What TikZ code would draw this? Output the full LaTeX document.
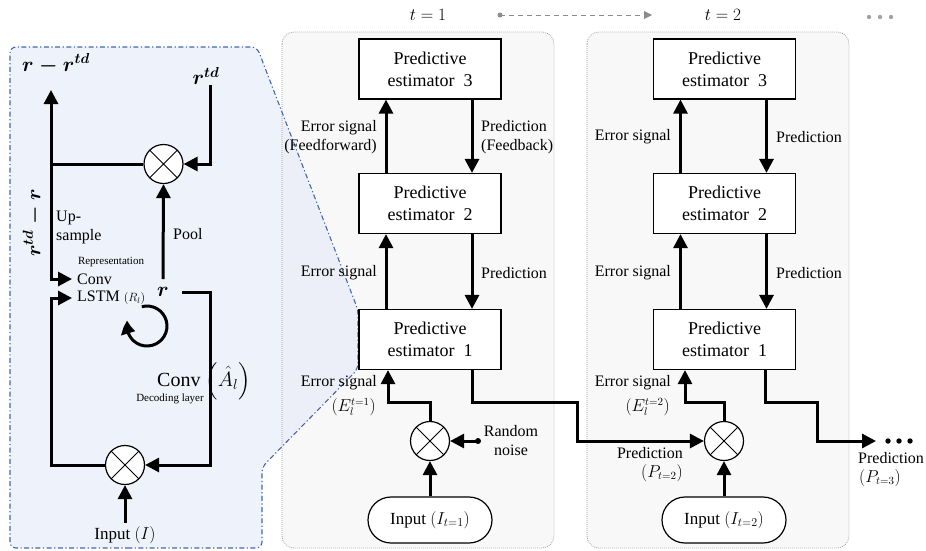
\documentclass[tikz,border=0pt]{standalone}
\usepackage{amsmath}
\usepackage{fontspec}
\setmainfont{Liberation Serif}
\usetikzlibrary{arrows.meta,calc,bending}

\definecolor{panelfill}{HTML}{F8F8F8}
\definecolor{panelline}{HTML}{9A9A9A}
\definecolor{zoomfill}{HTML}{E8EDF8}
\definecolor{zoomline}{HTML}{4469A8}
\definecolor{timegray}{HTML}{8C8C8C}

\tikzset{
  tip/.style={-{Triangle[width=14pt,length=14pt]}},
  flow/.style={line width=3pt, tip},
  wire/.style={line width=3pt},
  pebox/.style={draw, line width=1.2pt, fill=white, minimum width=142pt,
    minimum height=60pt, align=center, inner sep=0pt,
    font=\fontsize{18}{22}\selectfont},
  mult/.style={circle, draw, line width=1.2pt, fill=white, minimum size=39pt,
    inner sep=0pt, path picture={
      \draw[line width=1pt]
        (path picture bounding box.north west) -- (path picture bounding box.south east)
        (path picture bounding box.north east) -- (path picture bounding box.south west);}},
  inbox/.style={draw, line width=1.2pt, fill=white, rounded corners=23pt,
    minimum width=124pt, minimum height=46pt, font=\fontsize{17}{20}\selectfont},
  lbl/.style={font=\fontsize{16}{19}\selectfont, inner sep=0pt},
  small/.style={font=\fontsize{11}{13}\selectfont, inner sep=0pt},
  mathlbl/.style={font=\fontsize{20}{24}\selectfont, inner sep=0pt},
  panel/.style={draw=panelline, line width=0.8pt, dash pattern=on 0.8pt off 1.2pt,
    rounded corners=12pt},
  zoomedge/.style={draw=zoomline, line width=1.1pt,
    dash pattern=on 5pt off 2.5pt on 1.2pt off 2.5pt, rounded corners=6pt},
}

\begin{document}
\begin{tikzpicture}[x=1pt,y=-1pt]
\useasboundingbox (0,0) rectangle (926,550);

% time-step panels and the zoomed-in layer
\fill[panelfill, rounded corners=12pt] (282,32) rectangle (554,548);
\fill[panelfill, rounded corners=12pt] (587,32) rectangle (849,548);
\fill[zoomfill, fill opacity=0.75, rounded corners=6pt]
  (136,548) -- (10,548) -- (10,47) -- (257,47) -- (358,310) -- (358,369)
  -- (262,467) -- (262,548) -- cycle;
\draw[panel] (282,32) rectangle (554,548);
\draw[panel] (587,32) rectangle (849,548);
\path[zoomedge]
  (136,548) -- (10,548) -- (10,47) -- (257,47) -- (358,310) -- (358,369)
  -- (262,467) -- (262,548) -- cycle;

% ---------- inside one predictive estimator ----------
\node[mult] (mtop) at (163.5,164) {};
\node[mult] (mbot) at (125,465) {};
\node[mathlbl] (rdiff) at (56,64) {$\boldsymbol{r-r^{td}}$};
\node[mathlbl] (rtd) at (206,76) {$\boldsymbol{r^{td}}$};
\node[mathlbl, rotate=90] (rrev) at (33,223) {$\boldsymbol{r^{td}-r}$};
\node[lbl, anchor=west, align=left] (ups) at (56,227) {Up-\\sample};
\node[lbl, anchor=west] (pool) at (173,234) {Pool};
\node[small] (repr) at (111,262) {Representation};
\node[lbl, anchor=west] (conv1) at (77,279) {Conv};
\node[lbl, anchor=west] (lstm) at (77,298) {LSTM {\fontsize{12}{14}\selectfont$(R_l)$}};
\node[mathlbl] (rsym) at (163,292) {$\boldsymbol{r}$};
\node[font=\fontsize{20}{24}\selectfont, anchor=west, inner sep=0pt] (conv2) at (157,381)
  {Conv $\left(\hat{A}_l\right)$};
\node[small] (dec) at (170,399) {Decoding layer};
\node[font=\fontsize{17}{20}\selectfont] (inL) at (125,535) {Input $(I)$};

\coordinate (upt) at (51,90);
\coordinate (rc) at (210,292);
\coordinate (loopc) at (147,326);

\draw[line width=3pt, {Triangle[width=14pt,length=14pt]}-{Triangle[width=14pt,length=14pt]}]
  ([xshift=-5pt]conv1.west) -| (upt);
\draw[wire] (mtop.west) -- (mtop.west -| upt);
\draw[flow] ([xshift=4pt]rtd.south) |- (mtop.east);
\draw[flow] ([yshift=8pt]rsym.north) -- (mtop.south);
\draw[flow] ([xshift=13pt]rsym.east) -- (rc) |- (mbot.east);
\draw[flow] (mbot.west) -| (51,298) -- ([xshift=-5pt]lstm.west);
\draw[flow] (inL.north) -- (mbot.south);
\draw[line width=3pt, -{Triangle[width=14pt,length=13pt,bend]}]
  ($(loopc)+(-105:20)$) arc[start angle=-105, end angle=196, radius=20];

% ---------- time axis ----------
\node[font=\fontsize{18}{22}\selectfont] (t1) at (428,15) {$t=1$};
\node[font=\fontsize{18}{22}\selectfont] (t2) at (723,15) {$t=2$};
\coordinate (ts) at (500,15);
\coordinate (te) at (652,15);
\fill[timegray] (ts) circle (2.5);
\draw[timegray, line width=1pt, dash pattern=on 5pt off 4pt,
  -{Triangle[width=8pt,length=8pt]}] (ts) -- (te);
\foreach \x in {869,880,891} \fill[timegray!80] (\x,17) circle (2.2);

% ---------- time step 1 ----------
\node[pebox] (p13) at (430,69) {Predictive\\estimator\enspace3};
\node[pebox] (p12) at (430,203.5) {Predictive\\estimator\enspace2};
\node[pebox] (p11) at (430,339.5) {Predictive\\estimator\enspace1};
\node[mult] (m1) at (430,441) {};
\node[inbox] (in1) at (430,520) {Input $(I_{t=1})$};

\draw[flow] ([xshift=-44pt]p12.north) -- ([xshift=-44pt]p13.south);
\draw[flow] ([xshift=42pt]p13.south) -- ([xshift=42pt]p12.north);
\draw[flow] ([xshift=-44pt]p11.north) -- ([xshift=-44pt]p12.south);
\draw[flow] ([xshift=42pt]p12.south) -- ([xshift=42pt]p11.north);

\node[lbl, anchor=east, align=right] at (377,137.5) {Error signal\\(Feedforward)};
\node[lbl, anchor=west, align=left] at (481,137.5) {Prediction\\(Feedback)};
\node[lbl, anchor=east] at (377,273) {Error signal};
\node[lbl, anchor=west] at (481,273) {Prediction};

\coordinate (nz) at (478,441);
\coordinate (e1) at (388,402);
\coordinate (q1) at (577,402);
\fill (nz) circle (3);
\draw[flow] (nz) -- (m1.east);
\draw[flow] (in1.north) -- (m1.south);
\draw[flow] (m1.north) |- (e1) -- (e1 |- p11.south);
\node[lbl, align=center] (noise) at (511,441) {Random\\noise};
\node[lbl, anchor=east] (es1) at (377,383) {Error signal};
\node[lbl, anchor=east] (ev1) at (376,407) {$(E_l^{t=1})$};

% ---------- time step 2 ----------
\node[pebox] (p23) at (724.5,69) {Predictive\\estimator\enspace3};
\node[pebox] (p22) at (724.5,203.5) {Predictive\\estimator\enspace2};
\node[pebox] (p21) at (724.5,339.5) {Predictive\\estimator\enspace1};
\node[mult] (m2) at (724,441) {};
\node[inbox] (in2) at (724,520) {Input $(I_{t=2})$};

\draw[flow] ([xshift=-44pt]p22.north) -- ([xshift=-44pt]p23.south);
\draw[flow] ([xshift=42pt]p23.south) -- ([xshift=42pt]p22.north);
\draw[flow] ([xshift=-44pt]p21.north) -- ([xshift=-44pt]p22.south);
\draw[flow] ([xshift=42pt]p22.south) -- ([xshift=42pt]p21.north);

\node[lbl, anchor=east] at (671,137) {Error signal};
\node[lbl, anchor=west] at (776,137) {Prediction};
\node[lbl, anchor=east] at (671,273) {Error signal};
\node[lbl, anchor=west] at (776,273) {Prediction};

\draw[flow] ([xshift=42pt]p11.south) |- (q1) |- (m2.west);
\node[lbl, anchor=east] (pr2) at (683,453) {Prediction};
\node[lbl, anchor=east] (pv2) at (683,473) {$(P_{t=2})$};

\coordinate (e2) at (685,402);
\coordinate (q2) at (817,402);
\coordinate (endp) at (876,441);
\draw[flow] (in2.north) -- (m2.south);
\draw[flow] (m2.north) |- (e2) -- (e2 |- p21.south);
\node[lbl, anchor=east] (es2) at (671,383) {Error signal};
\node[lbl, anchor=east] (ev2) at (670,407) {$(E_l^{t=2})$};
\draw[flow] ([xshift=41pt]p21.south) |- (q2) |- (endp);
\foreach \x in {888,899,910} \fill (\x,441) circle (2.7);
\node[lbl, anchor=west] (pr3) at (858,458) {Prediction};
\node[lbl, anchor=west] (pv3) at (859,478) {$(P_{t=3})$};
\end{tikzpicture}
\end{document}
